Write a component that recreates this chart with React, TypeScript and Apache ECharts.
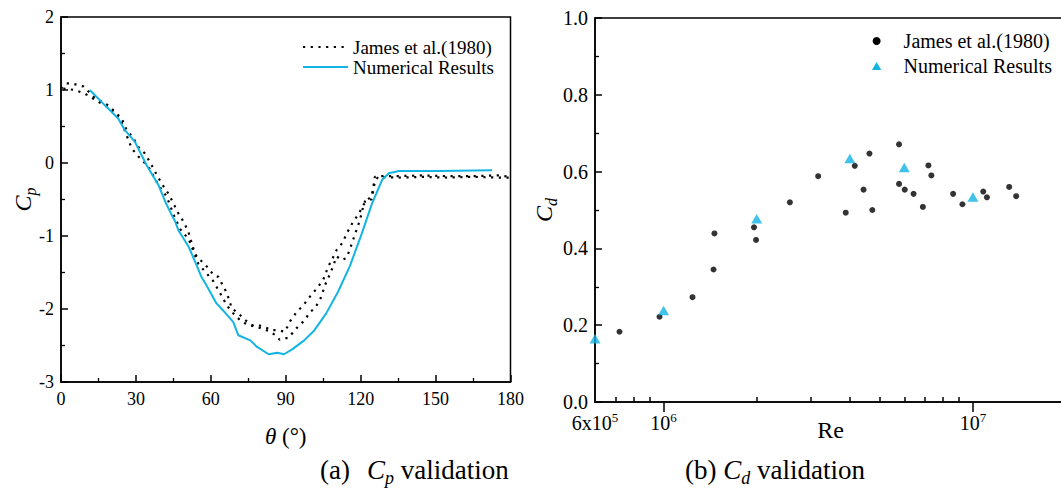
import React, { useEffect, useRef } from 'react';
import * as echarts from 'echarts';

// ---------- data ----------
const legendNames = ['James et al.(1980)', 'Numerical Results'];

// (a) pressure coefficient vs angle
const thetaNumerical = [11.5, 17.6, 22.9, 25.6, 29.6, 34.3, 39, 42, 44.3, 45.7, 47, 49, 51, 53.7, 56.1, 58.8, 62.2, 64.9, 69, 71, 75.8, 78.5, 83.2, 86.6, 89.3, 92.7, 97.4, 101.5, 106.2, 111, 115.7, 120.4, 124.5, 128.6, 131.3, 135.3, 151.6, 172.6];
const cpNumerical = [1.0, 0.79, 0.61, 0.45, 0.29, -0.03, -0.3, -0.55, -0.71, -0.8, -0.92, -1.03, -1.14, -1.35, -1.55, -1.71, -1.92, -2.02, -2.18, -2.36, -2.43, -2.52, -2.62, -2.6, -2.62, -2.55, -2.43, -2.29, -2.06, -1.76, -1.41, -0.97, -0.56, -0.23, -0.14, -0.11, -0.11, -0.1];

const thetaJamesA = [0, 2.3, 4.3, 8.9, 13.6, 18.9, 21.6, 24.3, 26.3, 29, 31, 33.6, 36.3, 38.3, 40.3, 43, 45, 47, 49, 51, 53, 54.3, 57, 59, 61, 63, 66.4, 68.4, 71, 73.7, 76.4, 79, 82.4, 84, 86.4, 89.7, 91.7, 94.4, 97, 99.7, 102.4, 105, 107, 108.4, 110.4, 113, 114.4, 115.7, 117, 119, 121, 122.4, 124.4, 125.7, 128, 135, 145, 155, 165, 175, 180];
const cpJamesA = [1.02, 1.09, 1.09, 1.05, 0.89, 0.79, 0.7, 0.61, 0.45, 0.34, 0.22, 0.13, -0.03, -0.16, -0.28, -0.42, -0.55, -0.69, -0.8, -0.94, -1.17, -1.28, -1.37, -1.44, -1.53, -1.56, -1.78, -1.99, -2.06, -2.15, -2.22, -2.22, -2.26, -2.29, -2.29, -2.31, -2.17, -2.04, -1.95, -1.83, -1.72, -1.6, -1.42, -1.33, -1.19, -1.08, -0.96, -0.89, -0.8, -0.71, -0.58, -0.51, -0.46, -0.19, -0.18, -0.18, -0.17, -0.18, -0.18, -0.17, -0.19];

const thetaJamesB = [0.9, 5.6, 9.6, 14.9, 20, 24, 28.3, 31, 35, 39, 42.3, 45.7, 48.3, 51, 55, 58, 61, 64, 66.4, 68, 70, 72.4, 75, 79, 83, 86, 87.5, 89, 91, 94.4, 97.7, 99.7, 101.7, 104, 106, 108, 110.4, 112.4, 114.4, 116, 118, 119.7, 121, 122, 124.4, 125.7, 127, 135, 145, 155, 165, 175, 180];
const cpJamesB = [1.02, 1.0, 0.95, 0.84, 0.74, 0.58, 0.2, 0.09, -0.05, -0.3, -0.46, -0.76, -0.94, -1.03, -1.38, -1.5, -1.62, -1.8, -1.95, -2.02, -2.1, -2.17, -2.22, -2.25, -2.3, -2.36, -2.42, -2.4, -2.4, -2.26, -2.15, -2.04, -1.99, -1.85, -1.65, -1.5, -1.28, -1.33, -1.3, -1.15, -0.95, -0.78, -0.6, -0.5, -0.5, -0.25, -0.19, -0.2, -0.19, -0.2, -0.19, -0.2, -0.2];

// (b) drag coefficient vs Reynolds number
const reJames = [7.2e5, 9.7e5, 1.24e6, 1.45e6, 1.46e6, 1.96e6, 1.99e6, 2.56e6, 3.16e6, 3.88e6, 4.15e6, 4.43e6, 4.63e6, 4.73e6, 5.77e6, 5.77e6, 6.02e6, 6.43e6, 6.89e6, 7.18e6, 7.34e6, 8.63e6, 9.25e6, 1.08e7, 1.11e7, 1.31e7, 1.38e7];
const cdJames = [0.183, 0.222, 0.273, 0.345, 0.439, 0.455, 0.422, 0.52, 0.588, 0.493, 0.615, 0.553, 0.647, 0.5, 0.671, 0.568, 0.553, 0.542, 0.508, 0.616, 0.59, 0.542, 0.515, 0.548, 0.533, 0.56, 0.536];
const reNumerical = [6e5, 1e6, 2e6, 4e6, 6e6, 1e7];
const cdNumerical = [0.165, 0.238, 0.477, 0.634, 0.611, 0.534];

// axis ticks
const reLabelValues = [6e5, 1e6, 1e7];
const reLabelMantissa = ['6x10', '10', '10'];
const reLabelExponent = ['5', '6', '7'];
const reMinorTicks = [7e5, 8e5, 9e5, 2e6, 3e6, 4e6, 5e6, 6e6, 7e6, 8e6, 9e6];
const reMajorTicks = [1e6, 1e7];

// ---------- styling ----------
const FONT = 'Liberation Serif';
const CYAN = '#12b4e4';
const BLACK = '#000';

const zip = (a: number[], b: number[]) => a.map((v, i) => [v, b[i]]);

const subRich = (F: number, f2: number, pt: number) => ({
  n: { fontSize: F, lineHeight: F, fontFamily: FONT, color: BLACK, verticalAlign: 'top' },
  i: { fontSize: F, lineHeight: F, fontFamily: FONT, fontStyle: 'italic', color: BLACK, verticalAlign: 'top' },
  s: { fontSize: f2, lineHeight: f2, fontFamily: FONT, fontStyle: 'italic', color: BLACK, verticalAlign: 'top', padding: [pt, 0, 0, 0] },
});
const plainRich = (F: number) => ({ t: { fontSize: F, lineHeight: F, fontFamily: FONT, color: BLACK } });

const axisLineStyle = { show: true, onZero: false, lineStyle: { color: BLACK, width: 1.5 } };
const tickStyle = (len: number) => ({ show: true, inside: true, length: len, lineStyle: { color: BLACK, width: 1.5 } });
const minorStyle = { show: true, splitNumber: 2, length: 4, lineStyle: { color: BLACK, width: 1.3 } };
const dotted = { color: BLACK, width: 2.2, type: [2.2, 5.5] };

export default function App() {
  const ref = useRef<HTMLDivElement>(null);

  useEffect(() => {
    if (!ref.current) return;
    const chart = echarts.init(ref.current, undefined, { renderer: 'svg' });

    const reFormatter = (v: number) => {
      const idx = reLabelValues.findIndex((t) => Math.abs(t - v) / t < 1e-6);
      if (idx < 0) return '';
      return `{b|${reLabelMantissa[idx]}}{u|${reLabelExponent[idx]}}`;
    };

    const option: any = {
      animation: false,
      backgroundColor: '#fff',
      textStyle: { fontFamily: FONT, color: BLACK },
      grid: [
        { left: 61, top: 17, width: 449.5, height: 365, show: true, borderColor: BLACK, borderWidth: 1.5, backgroundColor: 'transparent', containLabel: false },
        { left: 595, top: 18, width: 471, height: 384, show: true, borderColor: BLACK, borderWidth: 1.5, backgroundColor: 'transparent', containLabel: false },
      ],
      xAxis: [
        {
          gridIndex: 0, type: 'value', min: 0, max: 180, interval: 30,
          axisLine: axisLineStyle, axisTick: tickStyle(7), minorTick: minorStyle,
          splitLine: { show: false }, minorSplitLine: { show: false },
          axisLabel: { color: BLACK, fontSize: 18, fontFamily: FONT, margin: 8, formatter: (v: number) => `{t|${v}}`, rich: plainRich(18) },
          name: '{i|θ}{n| (°)}', nameLocation: 'middle', nameGap: 43, nameMoveOverlap: false,
          nameTextStyle: { fontFamily: FONT, rich: subRich(23, 15, 10) },
        },
        {
          gridIndex: 1, type: 'log', logBase: 10, min: 6e5, max: 2e7,
          axisLine: axisLineStyle,
          axisTick: { ...tickStyle(5), customValues: reMinorTicks },
          minorTick: { show: false }, splitLine: { show: false },
          axisLabel: {
            customValues: reLabelValues, formatter: reFormatter, margin: 9, fontFamily: FONT,
            showMinLabel: true, showMaxLabel: true, hideOverlap: false,
            rich: {
              b: { fontSize: 20, lineHeight: 20, fontFamily: FONT, color: BLACK, verticalAlign: 'top', padding: [2, 0, 0, 0] },
              u: { fontSize: 13, lineHeight: 13, fontFamily: FONT, color: BLACK, verticalAlign: 'top' },
            },
          },
          name: '{t|Re}', nameLocation: 'middle', nameGap: 16, nameMoveOverlap: false,
          nameTextStyle: { fontSize: 24, fontFamily: FONT, color: BLACK, rich: plainRich(24) },
        },
        {
          gridIndex: 1, type: 'log', logBase: 10, min: 6e5, max: 2e7,
          axisLine: { show: false },
          axisTick: { ...tickStyle(10), customValues: reMajorTicks },
          axisLabel: { show: false }, splitLine: { show: false }, minorTick: { show: false },
        },
      ],
      yAxis: [
        {
          gridIndex: 0, type: 'value', min: -3, max: 2, interval: 1,
          axisLine: axisLineStyle, axisTick: tickStyle(7), minorTick: minorStyle,
          splitLine: { show: false }, minorSplitLine: { show: false },
          axisLabel: { color: BLACK, fontSize: 18, fontFamily: FONT, margin: 7, formatter: (v: number) => `{t|${v}}`, rich: plainRich(18) },
          name: '{i|C}{s|p}', nameLocation: 'middle', nameGap: 26, nameMoveOverlap: false,
          nameTextStyle: { fontFamily: FONT, rich: subRich(24, 16, 11) },
        },
        {
          gridIndex: 1, type: 'value', min: 0, max: 1, interval: 0.2,
          axisLine: axisLineStyle, axisTick: tickStyle(7), minorTick: minorStyle,
          splitLine: { show: false }, minorSplitLine: { show: false },
          axisLabel: { color: BLACK, fontSize: 20, fontFamily: FONT, margin: 7, formatter: (v: number) => `{t|${v.toFixed(1)}}`, rich: plainRich(20) },
          name: '{i|C}{s|d}', nameLocation: 'middle', nameGap: 39, nameMoveOverlap: false,
          nameTextStyle: { fontFamily: FONT, rich: subRich(24, 16, 11) },
        },
      ],
      legend: [
        {
          data: legendNames, orient: 'vertical', left: 302, top: 37, padding: 0,
          itemWidth: 45, itemHeight: 14, itemGap: 0,
          itemStyle: { color: 'rgba(0,0,0,0)', borderWidth: 0, opacity: 0 },
          textStyle: { fontSize: 19, fontFamily: FONT, color: BLACK, lineHeight: 20 },
          selectedMode: false,
        },
        {
          data: [
            { name: legendNames[0], icon: 'circle', itemStyle: { color: BLACK, borderWidth: 0 } },
            { name: legendNames[1], icon: 'path://M5,0L10,8.66L0,8.66Z', itemStyle: { color: CYAN, borderWidth: 0 } },
          ],
          orient: 'vertical', left: 872, top: 31, padding: 0,
          itemWidth: 44, itemHeight: 8, itemGap: 5,
          textStyle: { fontSize: 20, fontFamily: FONT, color: BLACK, lineHeight: 20 },
          selectedMode: false,
        },
      ],
      series: [
        {
          name: legendNames[0], type: 'line', xAxisIndex: 0, yAxisIndex: 0,
          data: zip(thetaJamesA, cpJamesA), symbol: 'none', color: BLACK,
          lineStyle: dotted,
        },
        {
          name: legendNames[0], type: 'line', xAxisIndex: 0, yAxisIndex: 0,
          data: zip(thetaJamesB, cpJamesB), symbol: 'none', color: BLACK,
          lineStyle: dotted,
        },
        {
          name: legendNames[1], type: 'line', xAxisIndex: 0, yAxisIndex: 0,
          data: zip(thetaNumerical, cpNumerical), symbol: 'none', color: CYAN,
          lineStyle: { color: CYAN, width: 2 },
        },
        {
          name: legendNames[0], type: 'scatter', xAxisIndex: 1, yAxisIndex: 1,
          data: zip(reJames, cdJames), symbol: 'circle', symbolSize: 6,
          itemStyle: { color: BLACK }, clip: true,
        },
        {
          name: legendNames[1], type: 'scatter', xAxisIndex: 1, yAxisIndex: 1,
          data: zip(reNumerical, cdNumerical), symbol: 'triangle', symbolSize: [11, 9.5],
          itemStyle: { color: CYAN }, clip: true,
        },
      ],
      graphic: [
        {
          type: 'text', x: 320, y: 456,
          style: { text: '{n|(a)}{i|C}{s|p}{n| validation}', rich: { ...subRich(27, 18, 13), i: { ...subRich(27, 18, 13).i, padding: [0, 0, 0, 17] } } },
        },
        {
          type: 'text', x: 685, y: 456,
          style: { text: '{n|(b) }{i|C}{s|d}{n| validation}', rich: subRich(27, 18, 13) },
        },
      ],
    };

    chart.setOption(option);
    return () => chart.dispose();
  }, []);

  return (
    <div style={{ position: 'fixed', left: 0, top: 0, width: 1061, height: 488, overflow: 'hidden', background: '#fff' }}>
      <div ref={ref} style={{ width: 1080, height: 488 }} />
    </div>
  );
}
